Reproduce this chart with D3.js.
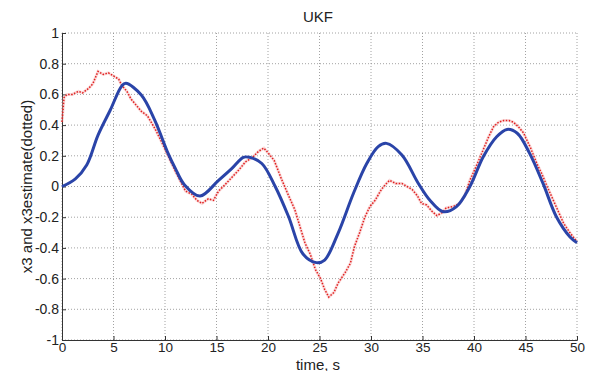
<!DOCTYPE html>
<html>
<head>
<meta charset="utf-8">
<script src="https://cdn.jsdelivr.net/npm/d3@7"></script>
<style>
  html, body { margin: 0; padding: 0; background: #fff; }
  svg { display: block; }
  text { font-family: "Liberation Sans", Arial, sans-serif; fill: #222; }
</style>
</head>
<body>
<svg id="chart" width="593" height="371"></svg>
<script>
// ---- Data ----
const title = "UKF";
const xLabel = "time, s";
const yLabel = "x3 and x3estimate(dotted)";
const xTicks = [0, 5, 10, 15, 20, 25, 30, 35, 40, 45, 50];
const yTicks = [-1, -0.8, -0.6, -0.4, -0.2, 0, 0.2, 0.4, 0.6, 0.8, 1];
const yTickLabels = ["-1", "-0.8", "-0.6", "-0.4", "-0.2", "0", "0.2", "0.4", "0.6", "0.8", "1"];

const trueT = [0, 1.3, 2.4, 3.5, 4.7, 5.8, 6.2, 7.7, 9.0, 10.3, 11.0, 11.9, 13.4, 15.2, 16.5, 17.6, 18.2, 19.4, 20.7, 22.0, 23.4, 24.7, 25.5, 26.8, 28.3, 29.6, 30.7, 31.5, 33.0, 34.6, 35.7, 37.0, 38.3, 39.6, 40.9, 42.2, 43.2, 44.2, 45.4, 46.7, 48.0, 49.3, 50];
const trueX3 = [0, 0.05, 0.14, 0.335, 0.5, 0.655, 0.672, 0.596, 0.433, 0.216, 0.118, 0.01, -0.062, 0.04, 0.118, 0.19, 0.19, 0.15, 0, -0.197, -0.44, -0.496, -0.479, -0.305, -0.044, 0.151, 0.26, 0.281, 0.205, 0.02, -0.088, -0.164, -0.131, 0, 0.194, 0.324, 0.372, 0.347, 0.216, 0.02, -0.197, -0.327, -0.366];

const estT = [0, 0.2, 0.5, 1.0, 1.6, 2.0, 2.6, 3.0, 3.5, 4.0, 4.5, 5.0, 5.5, 5.8, 6.3, 6.7, 7.2, 7.7, 8.3, 9.0, 9.6, 10.3, 11.0, 11.6, 12.0, 12.6, 13.1, 13.6, 14.2, 14.7, 15.2, 15.8, 16.5, 17.2, 17.8, 18.5, 19.1, 19.6, 20.0, 20.6, 21.3, 22.0, 22.6, 23.1, 23.6, 24.1, 24.6, 25.1, 25.5, 25.9, 26.4, 26.8, 27.5, 28.0, 28.4, 28.9, 29.4, 29.9, 30.4, 31.0, 31.5, 31.8, 32.4, 33.0, 33.5, 34.0, 34.5, 34.9, 35.4, 35.9, 36.4, 36.9, 37.3, 38.0, 38.6, 39.1, 39.6, 40.2, 40.9, 41.4, 41.9, 42.4, 42.9, 43.4, 43.8, 44.3, 44.8, 45.5, 46.1, 46.6, 47.1, 47.9, 48.7, 49.3, 50];
const estX3 = [0.42, 0.58, 0.6, 0.6, 0.62, 0.61, 0.64, 0.67, 0.75, 0.73, 0.74, 0.72, 0.70, 0.66, 0.62, 0.57, 0.53, 0.49, 0.46, 0.38, 0.30, 0.20, 0.10, 0.02, -0.03, -0.05, -0.09, -0.11, -0.08, -0.09, -0.03, 0.01, 0.06, 0.11, 0.16, 0.19, 0.23, 0.25, 0.22, 0.17, 0.05, -0.06, -0.15, -0.26, -0.37, -0.44, -0.54, -0.6, -0.67, -0.72, -0.69, -0.63, -0.56, -0.5, -0.39, -0.3, -0.2, -0.13, -0.09, -0.02, 0.02, 0.04, 0.02, 0.02, 0.0, -0.02, -0.06, -0.11, -0.12, -0.16, -0.19, -0.17, -0.14, -0.13, -0.11, -0.06, 0.04, 0.13, 0.24, 0.32, 0.39, 0.42, 0.43, 0.43, 0.42, 0.39, 0.35, 0.25, 0.15, 0.08, 0.0, -0.12, -0.24, -0.3, -0.36];

// ---- Layout ----
const margin = { left: 62, right: 16, top: 33, bottom: 31 };
const W = 593, H = 371;
const svg = d3.select("#chart");
const x = d3.scaleLinear().domain([0, 50]).range([margin.left, W - margin.right]);
const y = d3.scaleLinear().domain([-1, 1]).range([H - margin.bottom, margin.top]);

// grid
const grid = svg.append("g");
grid.selectAll("line.v").data(xTicks).join("line")
  .attr("x1", d => x(d)).attr("x2", d => x(d))
  .attr("y1", y(-1)).attr("y2", y(1))
  .attr("stroke", "#8a8a8a").attr("stroke-width", 0.8).attr("stroke-dasharray", "1,2");
grid.selectAll("line.h").data(yTicks).join("line")
  .attr("x1", x(0)).attr("x2", x(50))
  .attr("y1", d => y(d)).attr("y2", d => y(d))
  .attr("stroke", "#8a8a8a").attr("stroke-width", 0.8).attr("stroke-dasharray", "1,2");

// axes
const xAxis = d3.axisBottom(x).tickValues(xTicks).tickSize(-4).tickPadding(2).tickFormat(d3.format("d"));
const yAxis = d3.axisLeft(y).tickValues(yTicks).tickSize(-4).tickPadding(3)
  .tickFormat((d, i) => yTickLabels[i]);
const gx = svg.append("g").attr("transform", `translate(0,${y(-1)})`).call(xAxis);
const gy = svg.append("g").attr("transform", `translate(${x(0)},0)`).call(yAxis);
[gx, gy].forEach(g => {
  g.select(".domain").attr("stroke", "#333").attr("stroke-width", 1);
  g.selectAll(".tick line").attr("stroke", "#333");
  g.selectAll(".tick text").attr("fill", "#222")
    .attr("font-family", "'Liberation Sans', Arial, sans-serif");
});
gx.selectAll(".tick text").attr("font-size", 13.5);
gy.selectAll(".tick text").attr("font-size", 14);

// lines
const line = d3.line().x(d => x(d[0])).y(d => y(d[1])).curve(d3.curveCatmullRom.alpha(0.5));
const lineLin = d3.line().x(d => x(d[0])).y(d => y(d[1]));
const estData = estT.map((t, i) => [t, estX3[i]]);
const trueData = trueT.map((t, i) => [t, trueX3[i]]);

svg.append("path").datum(estData).attr("d", lineLin)
  .attr("fill", "none").attr("stroke", "#f3b0b0").attr("stroke-width", 3).attr("opacity", 0.45);
svg.append("path").datum(estData).attr("d", lineLin)
  .attr("fill", "none").attr("stroke", "#e02020").attr("stroke-width", 1.5).attr("stroke-dasharray", "1.5,1.5");

svg.append("path").datum(trueData).attr("d", line)
  .attr("fill", "none").attr("stroke", "#2a44a8").attr("stroke-width", 3).attr("stroke-linejoin", "round");

// text
svg.append("text").attr("x", 318).attr("y", 22).attr("text-anchor", "middle")
  .attr("font-size", 15).text(title);
svg.append("text").attr("x", 318).attr("y", 369.5).attr("text-anchor", "middle")
  .attr("font-size", 15).text(xLabel);
svg.append("text").attr("transform", `translate(32,${(y(-1) + y(1)) / 2}) rotate(-90)`)
  .attr("text-anchor", "middle").attr("font-size", 15).text(yLabel);
</script>
</body>
</html>
